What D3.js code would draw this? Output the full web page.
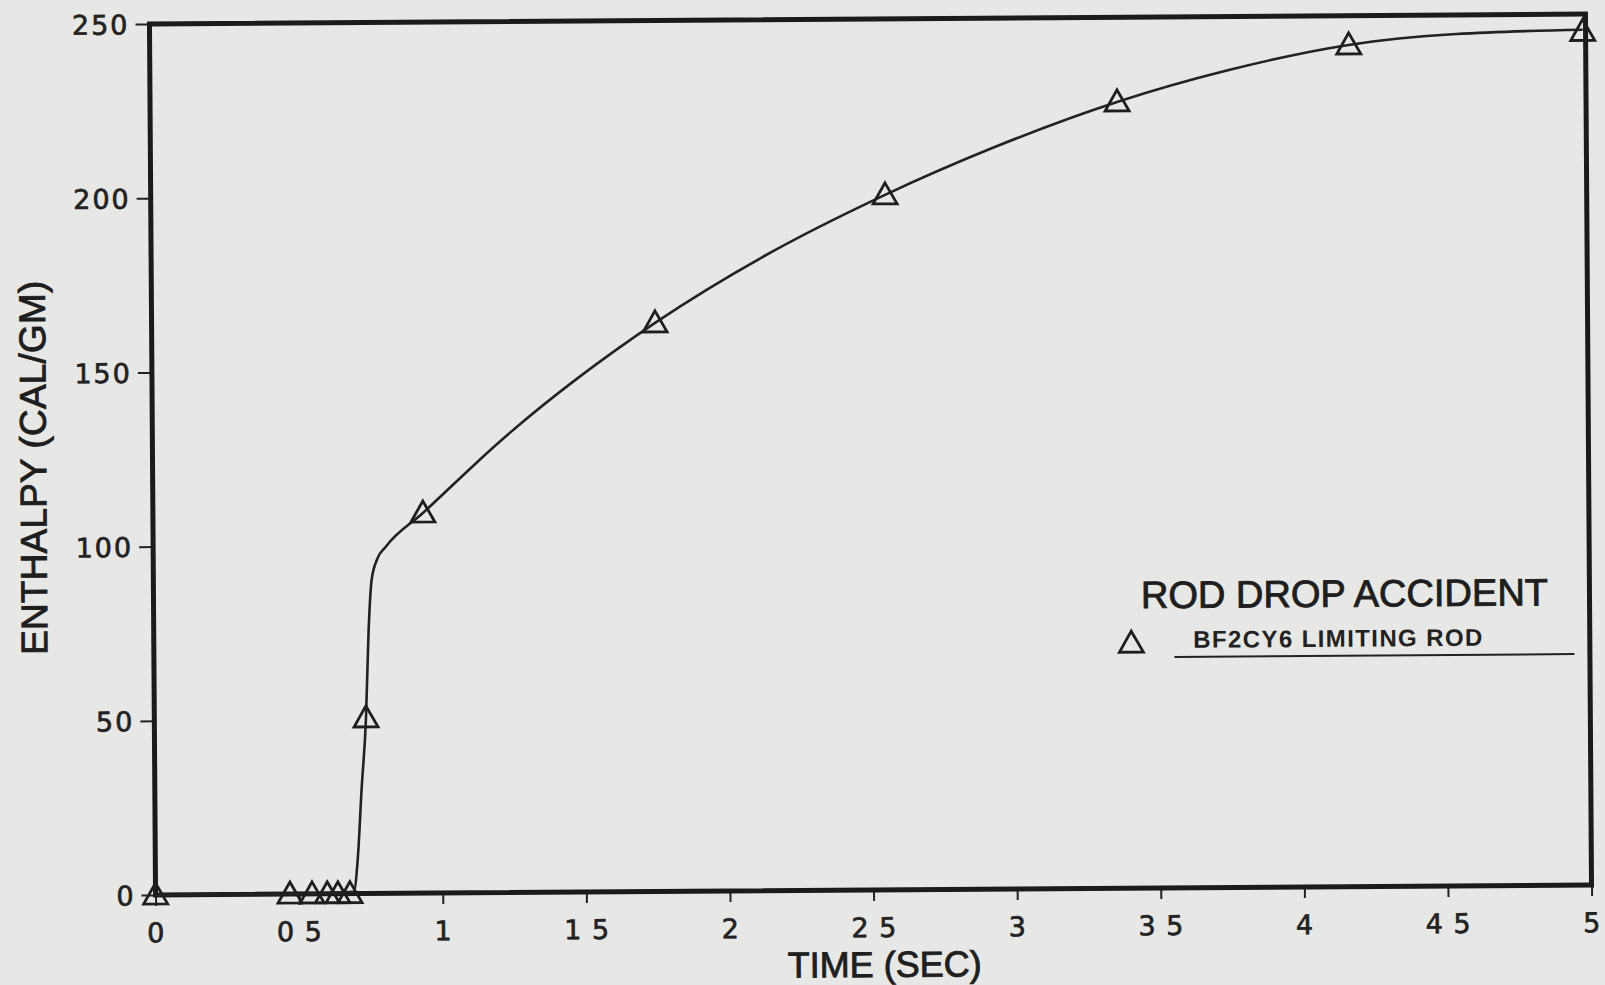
<!DOCTYPE html>
<html>
<head>
  <style>
    body { margin: 0; background: #e7e7e5; }
    svg { display: block; }
    .tick text { font-family: "DejaVu Sans", "Liberation Sans", Arial, sans-serif; fill: #222; stroke: #222; stroke-width: 0.7px; }
    .tick line { stroke: #222; stroke-width: 2px; }
    .title { font-family: "Liberation Sans", Arial, sans-serif; fill: #1e1e1e; stroke: #1e1e1e; stroke-width: 0.9px; }
  </style>
</head>
<body>
  <div id="chart"></div>

  <script src="https://cdnjs.cloudflare.com/ajax/libs/d3/7.8.5/d3.min.js"></script>
  <script>
    // Ticks
    const timeTicks = [0, 0.5, 1, 1.5, 2, 2.5, 3, 3.5, 4, 4.5, 5];
    const timeTickLabels = ["0", "0 5", "1", "1 5", "2", "2 5", "3", "3 5", "4", "4 5", "5"];
    const enthalpyTicks = [0, 50, 100, 150, 200, 250];

    // Triangle markers (BF2CY6 limiting rod)
    const markerTime = [0, 0.468, 0.545, 0.598, 0.635, 0.677, 0.737, 0.94, 1.753, 2.557, 3.367, 4.175, 4.99];
    const markerEnthalpy = [0, 0, 0, 0, 0, 0, 50.4, 109.1, 163.2, 199.5, 225.7, 241.6, 245];

    // Smooth curve
    const curveTime = [0, 0.5, 0.69, 0.705, 0.72, 0.737, 0.748, 0.76, 0.78, 0.81, 0.94, 1.21, 1.753, 2.14, 2.557, 2.94, 3.367, 3.75, 4.175, 4.55, 4.99];
    const curveEnthalpy = [0, 0, 0.5, 10, 30, 50.4, 75, 90, 96, 99.5, 109.1, 129.5, 163.2, 182.4, 199.5, 213, 225.7, 234.5, 241.6, 244.5, 245.5];

    const width = 1605;
    const height = 985;
    const plot = { left: 152.5, right: 1588.5, top: 19, bottom: 890 };

    const svg = d3.select("#chart")
      .append("svg")
      .attr("width", width)
      .attr("height", height);

    // the scanned page is a little tilted
    const g = svg.append("g")
      .attr("transform", "rotate(-0.4, 870, 455)");

    const x = d3.scaleLinear().domain([0, 5]).range([plot.left, plot.right]);
    const y = d3.scaleLinear().domain([0, 250]).range([plot.bottom, plot.top]);

    // axes
    const xAxisG = g.append("g")
      .attr("transform", `translate(0,${plot.bottom})`)
      .call(d3.axisBottom(x)
        .tickValues(timeTicks)
        .tickFormat((d, i) => timeTickLabels[i])
        .tickSize(11)
        .tickPadding(17));
    xAxisG.select(".domain").remove();
    xAxisG.selectAll(".tick text").style("font-size", "27px").style("letter-spacing", "1px");

    const yAxisG = g.append("g")
      .attr("transform", `translate(${plot.left},0)`)
      .call(d3.axisLeft(y)
        .tickValues(enthalpyTicks)
        .tickSize(14)
        .tickPadding(6));
    yAxisG.select(".domain").remove();
    yAxisG.selectAll(".tick text")
      .style("font-size", "27px")
      .style("letter-spacing", "2px")
      .attr("dy", "0.36em");

    // frame
    g.append("rect")
      .attr("x", plot.left)
      .attr("y", plot.top)
      .attr("width", plot.right - plot.left)
      .attr("height", plot.bottom - plot.top)
      .attr("fill", "none")
      .attr("stroke", "#1b1b1b")
      .attr("stroke-width", 5);

    // curve
    const curveData = curveTime.map((t, i) => ({ t: t, h: curveEnthalpy[i] }));
    const line = d3.line()
      .x(d => x(d.t))
      .y(d => y(d.h))
      .curve(d3.curveMonotoneX);

    g.append("path")
      .datum(curveData)
      .attr("d", line)
      .attr("fill", "none")
      .attr("stroke", "#222")
      .attr("stroke-width", 2.6);

    // triangles
    const tri = "M0,-12 L12,9 L-12,9 Z";
    const markers = markerTime.map((t, i) => ({ t: t, h: markerEnthalpy[i] }));
    g.selectAll(".marker")
      .data(markers)
      .join("path")
      .attr("class", "marker")
      .attr("d", tri)
      .attr("transform", d => `translate(${x(d.t)},${y(d.h)})`)
      .attr("fill", "none")
      .attr("stroke", "#1e1e1e")
      .attr("stroke-width", 2.8);

    // axis titles
    g.append("text")
      .attr("class", "title")
      .attr("x", 881)
      .attr("y", 977)
      .attr("text-anchor", "middle")
      .style("font-size", "36px")
      .text("TIME (SEC)");

    g.append("text")
      .attr("class", "title")
      .attr("transform", "translate(46,462) rotate(-90)")
      .attr("text-anchor", "middle")
      .attr("textLength", 374)
      .style("font-size", "37px")
      .text("ENTHALPY (CAL/GM)");

    // legend
    g.append("text")
      .attr("class", "title")
      .attr("x", 1140)
      .attr("y", 610)
      .attr("textLength", 407)
      .style("font-size", "38px")
      .text("ROD DROP ACCIDENT");

    g.append("path")
      .attr("d", tri)
      .attr("transform", "translate(1130,645)")
      .attr("fill", "none")
      .attr("stroke", "#1e1e1e")
      .attr("stroke-width", 2.8);

    g.append("text")
      .attr("x", 1192)
      .attr("y", 650)
      .attr("textLength", 289)
      .style("font-family", "'Liberation Sans', Arial, sans-serif")
      .style("font-weight", "bold")
      .style("font-size", "24px")
      .attr("fill", "#222")
      .text("BF2CY6 LIMITING ROD");

    g.append("line")
      .attr("x1", 1173)
      .attr("x2", 1573)
      .attr("y1", 659)
      .attr("y2", 659)
      .attr("stroke", "#222")
      .attr("stroke-width", 2);
  </script>
</body>
</html>
